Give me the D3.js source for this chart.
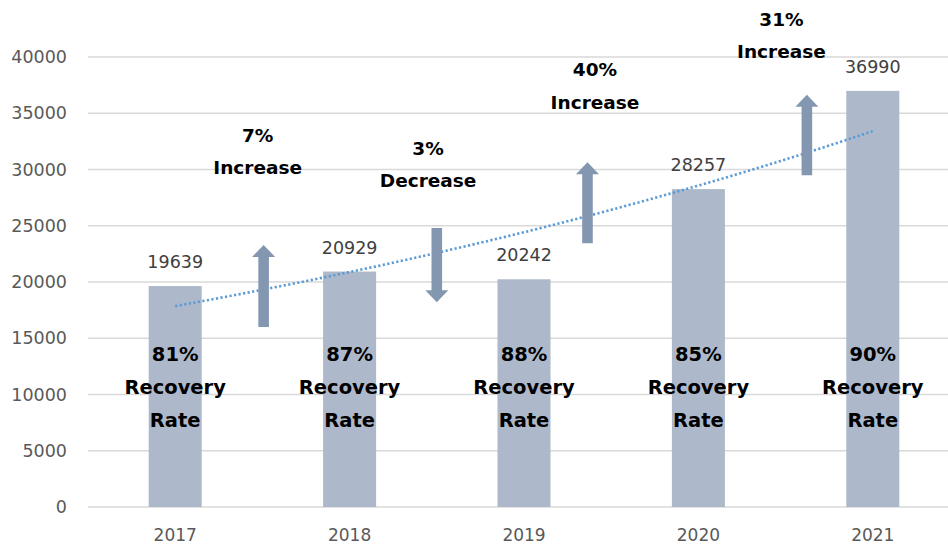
<!DOCTYPE html>
<html><head><meta charset="utf-8">
<script src="https://cdn.jsdelivr.net/npm/d3@7"></script>
<style>
html,body{margin:0;padding:0;background:#fff;}
svg{display:block;}
text{font-family:"DejaVu Sans",sans-serif;}
</style></head>
<body>
<svg id="chart" width="948" height="548"></svg>
<script>
// ---- data ----
const years = ["2017", "2018", "2019", "2020", "2021"];
const recoveries = [19639, 20929, 20242, 28257, 36990];
const recoveryRates = ["81%", "87%", "88%", "85%", "90%"];
const yTicks = [0, 5000, 10000, 15000, 20000, 25000, 30000, 35000, 40000];
// change annotations: between which years, label, direction
const changeFrom = ["2017", "2018", "2019", "2020"];
const changePct = ["7%", "3%", "40%", "31%"];
const changeWord = ["Increase", "Decrease", "Increase", "Increase"];
const changeDir = ["up", "down", "up", "up"];
// arrow extents (in value units)
const arrowLow = [16000, 18200, 23450, 29500];
const arrowHigh = [23300, 24800, 30650, 36650];

// ---- layout ----
const svg = d3.select("#chart");
const plot = {left: 88, right: 960, top: 57, bottom: 507};
const arrowOffset = [0.507, 0.50, 0.364, 0.622];
const labelOffset = [0.473, 0.45, 0.407, 0.476];
const labelBase = [32471, 31289, 38311, 42756];

const x = d3.scaleBand().domain(years).range([plot.left, plot.right])
  .paddingInner(0.696).paddingOuter(0.348);
const y = d3.scaleLinear().domain([0, 40000]).range([plot.bottom, plot.top]);
const step = x.step();
const cx = yr => x(yr) + x.bandwidth() / 2;

// gridlines
svg.append("g").selectAll("line").data(yTicks).join("line")
  .attr("x1", plot.left).attr("x2", plot.right)
  .attr("y1", d => y(d)).attr("y2", d => y(d))
  .attr("stroke", "#D9D9D9").attr("stroke-width", 1.3);

// y axis labels
const yAxis = d3.axisLeft(y).tickValues(yTicks).tickSize(0).tickPadding(0).tickFormat(d3.format("d"));
const ga = svg.append("g").attr("transform", `translate(67,0)`).call(yAxis);
ga.select(".domain").remove();
ga.selectAll("text").attr("font-size", 17.5).attr("fill", "#595959")
  .attr("font-family", "DejaVu Sans");

// x axis labels
const xAxis = d3.axisBottom(x).tickSize(0).tickPadding(0);
const gx = svg.append("g").attr("transform", `translate(0,${plot.bottom})`).call(xAxis);
gx.select(".domain").remove();
gx.selectAll("text").attr("font-size", 17).attr("fill", "#595959")
  .attr("font-family", "DejaVu Sans").attr("dy", null).attr("y", 34);

// bars
svg.append("g").selectAll("rect").data(years).join("rect")
  .attr("x", d => x(d)).attr("width", x.bandwidth())
  .attr("y", (d, i) => y(recoveries[i]))
  .attr("height", (d, i) => y(0) - y(recoveries[i]))
  .attr("fill", "#ADB9CA");

// exponential trendline fitted to the data
const n = recoveries.length;
const xs = d3.range(1, n + 1);
const ls = recoveries.map(v => Math.log(v));
const mx = d3.mean(xs), ml = d3.mean(ls);
const b = d3.sum(xs, (xi, i) => (xi - mx) * (ls[i] - ml)) / d3.sum(xs, xi => (xi - mx) ** 2);
const a = ml - b * mx;
const trend = d3.range(0, 101).map(k => {
  const t = 1 + (n - 1) * k / 100;
  return [cx(years[0]) + (t - 1) * step, y(Math.exp(a + b * t))];
});
svg.append("path").attr("d", d3.line()(trend))
  .attr("fill", "none").attr("stroke", "#5B9BD5").attr("stroke-width", 2.6)
  .attr("stroke-dasharray", "2.2 2.4");

// value labels
svg.append("g").selectAll("text").data(years).join("text")
  .attr("x", d => cx(d)).attr("y", (d, i) => y(recoveries[i]) - 18)
  .attr("text-anchor", "middle").attr("font-size", 17.5).attr("fill", "#404040")
  .text((d, i) => recoveries[i]);

// recovery rate labels
const rr = svg.append("g");
years.forEach((yr, i) => {
  const lines = [recoveryRates[i], "Recovery", "Rate"];
  lines.forEach((t, j) => {
    rr.append("text").attr("x", cx(yr)).attr("y", y(13000) + j * 33)
      .attr("text-anchor", "middle").attr("font-size", 19.5).attr("font-weight", "bold")
      .attr("fill", "#000").text(t);
  });
});

// arrows
const ag = svg.append("g");
changeFrom.forEach((yr, i) => {
  const ax = cx(yr) + arrowOffset[i] * step;
  const sw = 5.3, hw = 11.5, hl = 12;
  const yl = y(arrowLow[i]), yh = y(arrowHigh[i]);
  let pts;
  if (changeDir[i] === "up") {
    pts = [[ax - sw, yl], [ax - sw, yh + hl], [ax - hw, yh + hl], [ax, yh], [ax + hw, yh + hl], [ax + sw, yh + hl], [ax + sw, yl]];
  } else {
    pts = [[ax - sw, yh], [ax - sw, yl - hl], [ax - hw, yl - hl], [ax, yl], [ax + hw, yl - hl], [ax + sw, yl - hl], [ax + sw, yh]];
  }
  ag.append("polygon").attr("points", pts.map(p => p.join(",")).join(" "))
    .attr("fill", "#8497B0");
});

// change labels
const cg = svg.append("g");
changeFrom.forEach((yr, i) => {
  const lx = cx(yr) + labelOffset[i] * step;
  [changePct[i], changeWord[i]].forEach((t, j) => {
    cg.append("text").attr("x", lx).attr("y", y(labelBase[i]) + j * 32.5)
      .attr("text-anchor", "middle").attr("font-size", 18.5).attr("font-weight", "bold")
      .attr("fill", "#000").text(t);
  });
});
</script>
</body></html>
